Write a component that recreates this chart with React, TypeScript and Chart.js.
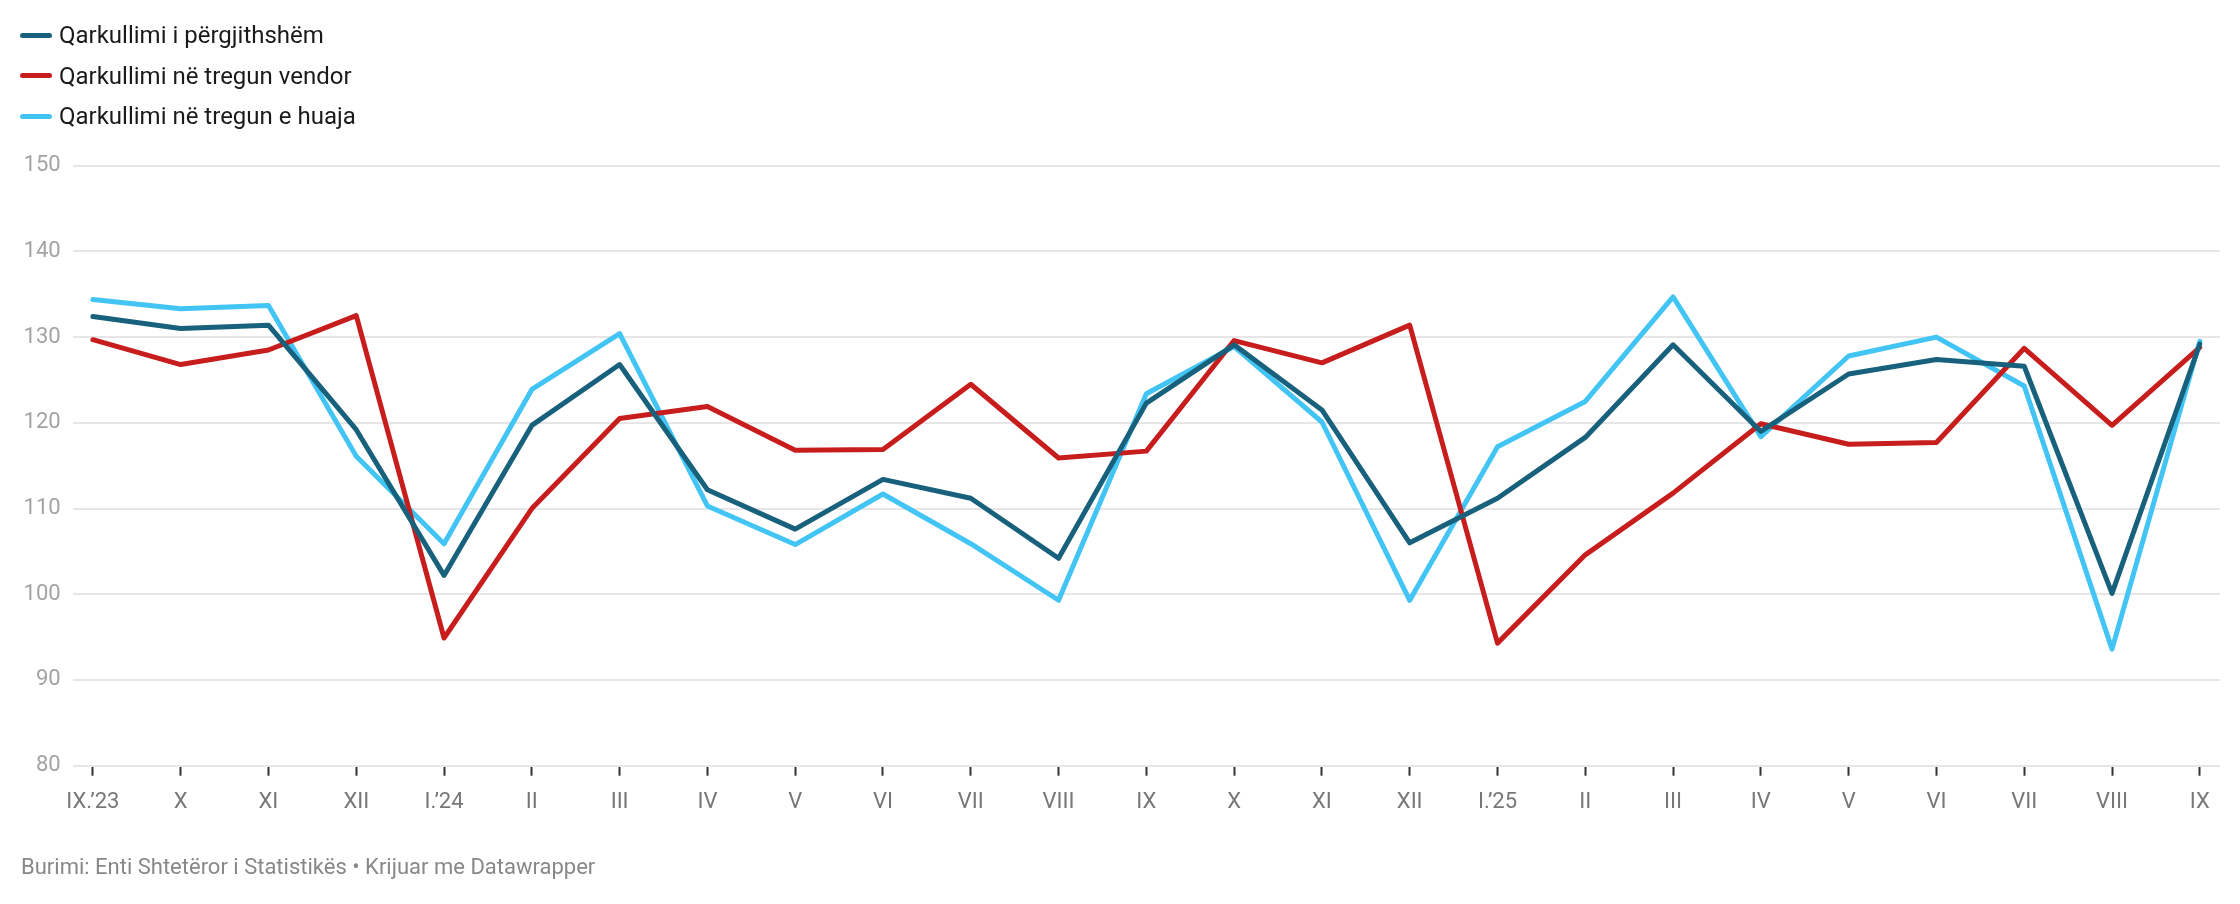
import React, { useEffect, useRef } from 'react';
import { Chart, registerables } from 'chart.js';

Chart.register(...registerables);

const categories = ["IX.’23", "X", "XI", "XII", "I.’24", "II", "III", "IV", "V", "VI", "VII", "VIII", "IX", "X", "XI", "XII", "I.’25", "II", "III", "IV", "V", "VI", "VII", "VIII", "IX"];

const totalTurnover = [132.4, 131.0, 131.4, 119.2, 102.2, 119.7, 126.8, 112.2, 107.6, 113.4, 111.2, 104.2, 122.3, 129.1, 121.5, 106.0, 111.2, 118.3, 129.1, 119.0, 125.7, 127.4, 126.6, 100.1, 129.2];
const domesticTurnover = [129.7, 126.8, 128.5, 132.5, 94.9, 110.0, 120.5, 121.9, 116.8, 116.9, 124.5, 115.9, 116.7, 129.6, 127.0, 131.4, 94.3, 104.6, 111.8, 119.9, 117.5, 117.7, 128.7, 119.7, 128.8];
const foreignTurnover = [134.4, 133.3, 133.7, 116.1, 105.9, 123.9, 130.4, 110.3, 105.8, 111.7, 105.9, 99.3, 123.4, 128.9, 120.1, 99.3, 117.2, 122.5, 134.7, 118.4, 127.8, 130.0, 124.3, 93.6, 129.5];

const yTicks = [80, 90, 100, 110, 120, 130, 140, 150];

const seriesNames = ["Qarkullimi i përgjithshëm", "Qarkullimi në tregun vendor", "Qarkullimi në tregun e huaja"];
const seriesColors = ["#18617c", "#c71e1d", "#42c5f5"];
const seriesValues = [totalTurnover, domesticTurnover, foreignTurnover];

const footnote = "Burimi: Enti Shtetëror i Statistikës • Krijuar me Datawrapper";

export default function App() {
  const ref = useRef<HTMLCanvasElement>(null);

  useEffect(() => {
    document.body.style.margin = '0';
    const canvas = ref.current;
    if (!canvas) return;
    const chart = new Chart(canvas, {
      type: 'line',
      data: {
        datasets: seriesValues.map((vals, si) => ({
          label: seriesNames[si],
          data: vals.map((y, i) => ({ x: i, y })),
          borderColor: seriesColors[si],
          backgroundColor: seriesColors[si],
          borderWidth: 5,
          pointRadius: 0,
          pointHoverRadius: 0,
          tension: 0,
          borderJoinStyle: 'round',
          borderCapStyle: 'round',
          fill: false,
        })),
      },
      options: {
        animation: false,
        responsive: false,
        devicePixelRatio: 1,
        layout: { padding: { left: 0, right: 20, top: 165.7, bottom: 78.3 } },
        plugins: { legend: { display: false }, tooltip: { enabled: false } },
        scales: {
          x: {
            type: 'linear',
            min: -0.23,
            max: 24.23,
            afterBuildTicks: (s: any) => {
              s.ticks = categories.map((_, i) => ({ value: i }));
            },
            afterFit: (s: any) => {
              s.height = 60;
            },
            grid: {
              drawOnChartArea: false,
              drawTicks: true,
              tickLength: 10,
              tickColor: '#333333',
              tickWidth: 2,
            },
            border: { display: false },
            ticks: {
              autoSkip: false,
              maxRotation: 0,
              minRotation: 0,
              padding: 14,
              color: '#777777',
              font: { family: 'Roboto', size: 22 },
              callback: (_v: any, idx: number) => categories[idx] ?? '',
            },
          },
          y: {
            min: 80,
            max: 150,
            afterBuildTicks: (s: any) => {
              s.ticks = yTicks.map((v) => ({ value: v }));
            },
            afterFit: (s: any) => {
              s.width = 72.7;
            },
            grid: { color: '#e6e6e6', lineWidth: 2, drawTicks: false },
            border: { display: false },
            ticks: {
              padding: 12,
              color: '#a3a3a3',
              font: { family: 'Roboto', size: 22 },
            },
          },
        },
      },
    });
    return () => chart.destroy();
  }, []);

  return (
    <div style={{ position: 'absolute', left: 0, top: 0, width: 2240, height: 904, background: '#ffffff', fontFamily: 'Roboto, sans-serif', overflow: 'hidden' }}>
      <canvas ref={ref} width={2240} height={904} style={{ position: 'absolute', left: 0, top: 0, width: 2240, height: 904 }} />
      {seriesNames.map((name, i) => (
        <div key={name} style={{ position: 'absolute', left: 20, top: 35 + 40.5 * i - 15, height: 30, display: 'flex', alignItems: 'center' }}>
          <span style={{ display: 'inline-block', width: 32, height: 5, borderRadius: 3, background: seriesColors[i] }} />
          <span style={{ marginLeft: 7, fontSize: 24, lineHeight: '30px', color: '#1a1a1a', whiteSpace: 'nowrap' }}>{name}</span>
        </div>
      ))}
      <div style={{ position: 'absolute', left: 21, top: 853.5, fontSize: 22, lineHeight: '26px', color: '#888888', whiteSpace: 'nowrap' }}>{footnote}</div>
    </div>
  );
}
